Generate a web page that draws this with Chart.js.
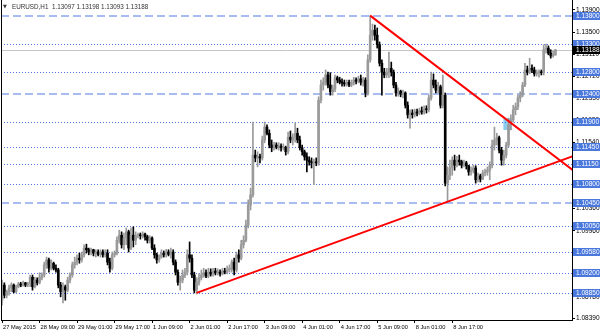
<!DOCTYPE html>
<html>
<head>
<meta charset="utf-8">
<script src="https://cdn.jsdelivr.net/npm/chart.js@4.4.1/dist/chart.umd.min.js"></script>
<style>
  html, body { margin: 0; padding: 0; background: #fff; }
  #wrap { width: 600px; height: 333px; }
</style>
</head>
<body>
<div id="wrap"><canvas id="chart" width="600" height="333"></canvas></div>
<script>
// EURUSD H1, one entry per hourly bar, starting 27 May 2015 17:00
const symbol = "EURUSD,H1";

const opens = [
  1.0872, 1.0899, 1.0881, 1.0887, 1.0894, 1.0899, 1.0887, 1.0896, 1.0901, 1.0899,
  1.0903, 1.0899, 1.0901, 1.0913, 1.0896, 1.0908, 1.0903, 1.0913, 1.0917, 1.0935,
  1.0944, 1.0929, 1.0938, 1.0929, 1.0926, 1.0899, 1.0887, 1.0896, 1.0890, 1.0908,
  1.0917, 1.0935, 1.0940, 1.0947, 1.0944, 1.0953, 1.0965, 1.0962, 1.0958, 1.0962,
  1.0956, 1.0958, 1.0954, 1.0958, 1.0953, 1.0956, 1.0940, 1.0929, 1.0953, 1.0956,
  1.0979, 1.0988, 1.0971, 1.0983, 1.0994, 1.0965, 1.0988, 1.0979, 1.0987, 1.0988,
  1.0987, 1.0990, 1.0985, 1.0979, 1.0983, 1.0965, 1.0953, 1.0944, 1.0949, 1.0956,
  1.0953, 1.0958, 1.0954, 1.0958, 1.0940, 1.0922, 1.0904, 1.0908, 1.0917, 1.0922,
  1.0953, 1.0947, 1.0917, 1.0890, 1.0904, 1.0912, 1.0917, 1.0921, 1.0915, 1.0922,
  1.0919, 1.0924, 1.0921, 1.0922, 1.0919, 1.0924, 1.0922, 1.0926, 1.0929, 1.0940,
  1.0926, 1.0953, 1.0947, 1.0971, 1.0979, 1.1006, 1.1042, 1.1060, 1.1131, 1.1126,
  1.1128, 1.1126, 1.1158, 1.1181, 1.1170, 1.1149, 1.1144, 1.1149, 1.1145, 1.1147,
  1.1144, 1.1145, 1.1137, 1.1163, 1.1158, 1.1163, 1.1170, 1.1158, 1.1144, 1.1137,
  1.1128, 1.1122, 1.1119, 1.1117, 1.1119, 1.1117, 1.1229, 1.1256, 1.1261, 1.1274,
  1.1256, 1.1244, 1.1249, 1.1269, 1.1265, 1.1261, 1.1260, 1.1258, 1.1261, 1.1256,
  1.1260, 1.1265, 1.1263, 1.1267, 1.1261, 1.1265, 1.1242, 1.1301, 1.1345, 1.1354,
  1.1345, 1.1328, 1.1295, 1.1279, 1.1274, 1.1279, 1.1286, 1.1279, 1.1256, 1.1242,
  1.1245, 1.1240, 1.1242, 1.1220, 1.1203, 1.1206, 1.1203, 1.1208, 1.1206, 1.1210,
  1.1208, 1.1213, 1.1212, 1.1233, 1.1265, 1.1256, 1.1247, 1.1253, 1.1220, 1.1238,
  1.1081, 1.1095, 1.1108, 1.1122, 1.1113, 1.1122, 1.1119, 1.1113, 1.1117, 1.1112,
  1.1101, 1.1104, 1.1108, 1.1087, 1.1094, 1.1088, 1.1099, 1.1101, 1.1104, 1.1113,
  1.1149, 1.1158, 1.1162, 1.1140, 1.1122, 1.1131, 1.1149, 1.1185, 1.1194, 1.1212,
  1.1217, 1.1233, 1.1238, 1.1256, 1.1283, 1.1279, 1.1286, 1.1283, 1.1276, 1.1278,
  1.1279, 1.1278, 1.1319, 1.1322, 1.1313, 1.1308, 1.13097
];
const highs = [
  1.0908, 1.0903, 1.0890, 1.0899, 1.0903, 1.0901, 1.0899, 1.0904, 1.0904, 1.0906,
  1.0904, 1.0904, 1.0917, 1.0917, 1.0913, 1.0912, 1.0921, 1.0921, 1.0940, 1.0949,
  1.0947, 1.0944, 1.0940, 1.0935, 1.0929, 1.0904, 1.0903, 1.0899, 1.0913, 1.0921,
  1.0940, 1.0949, 1.0953, 1.0956, 1.0958, 1.0971, 1.0972, 1.0965, 1.0965, 1.0963,
  1.0962, 1.0962, 1.0962, 1.0962, 1.0962, 1.0962, 1.0947, 1.0958, 1.0960, 1.0985,
  1.0997, 1.0994, 1.0992, 1.1001, 1.0997, 1.1001, 1.1003, 1.0994, 1.0992, 1.0992,
  1.0994, 1.0992, 1.0988, 1.0987, 1.0985, 1.0971, 1.0956, 1.0953, 1.0962, 1.0960,
  1.0963, 1.0962, 1.0965, 1.0962, 1.0944, 1.0926, 1.0915, 1.0926, 1.0929, 1.0962,
  1.0976, 1.0953, 1.0922, 1.0912, 1.0919, 1.0926, 1.0929, 1.0926, 1.0929, 1.0928,
  1.0929, 1.0929, 1.0928, 1.0926, 1.0929, 1.0929, 1.0933, 1.0935, 1.0944, 1.0947,
  1.0958, 1.0962, 1.0979, 1.0987, 1.1015, 1.1051, 1.1072, 1.1190, 1.1140, 1.1137,
  1.1133, 1.1165, 1.1190, 1.1185, 1.1176, 1.1158, 1.1154, 1.1153, 1.1153, 1.1151,
  1.1151, 1.1147, 1.1172, 1.1174, 1.1169, 1.1188, 1.1179, 1.1165, 1.1149, 1.1140,
  1.1135, 1.1128, 1.1126, 1.1124, 1.1126, 1.1235, 1.1265, 1.1269, 1.1283, 1.1279,
  1.1278, 1.1256, 1.1274, 1.1272, 1.1270, 1.1267, 1.1265, 1.1265, 1.1265, 1.1265,
  1.1270, 1.1269, 1.1272, 1.1274, 1.1270, 1.1269, 1.1310, 1.1380, 1.1365, 1.1363,
  1.1358, 1.1333, 1.1301, 1.1286, 1.1286, 1.1315, 1.1297, 1.1283, 1.1261, 1.1251,
  1.1247, 1.1247, 1.1244, 1.1226, 1.1212, 1.1212, 1.1213, 1.1213, 1.1215, 1.1217,
  1.1219, 1.1219, 1.1238, 1.1279, 1.1276, 1.1265, 1.1261, 1.1256, 1.1274, 1.1242,
  1.1110, 1.1122, 1.1128, 1.1131, 1.1129, 1.1131, 1.1122, 1.1122, 1.1120, 1.1113,
  1.1110, 1.1113, 1.1112, 1.1099, 1.1097, 1.1104, 1.1106, 1.1110, 1.1119, 1.1158,
  1.1181, 1.1170, 1.1165, 1.1145, 1.1140, 1.1154, 1.1197, 1.1203, 1.1220, 1.1224,
  1.1238, 1.1244, 1.1261, 1.1295, 1.1290, 1.1304, 1.1292, 1.1288, 1.1283, 1.1283,
  1.1283, 1.1328, 1.1329, 1.1326, 1.1319, 1.1317, 1.13198
];
const lows = [
  1.0863, 1.0876, 1.0876, 1.0881, 1.0887, 1.0885, 1.0885, 1.0894, 1.0896, 1.0897,
  1.0896, 1.0896, 1.0896, 1.0890, 1.0894, 1.0899, 1.0901, 1.0908, 1.0913, 1.0929,
  1.0922, 1.0926, 1.0926, 1.0922, 1.0894, 1.0878, 1.0867, 1.0872, 1.0887, 1.0903,
  1.0913, 1.0929, 1.0935, 1.0938, 1.0940, 1.0949, 1.0956, 1.0953, 1.0953, 1.0951,
  1.0949, 1.0951, 1.0949, 1.0949, 1.0949, 1.0935, 1.0922, 1.0926, 1.0949, 1.0953,
  1.0974, 1.0965, 1.0962, 1.0971, 1.0958, 1.0962, 1.0967, 1.0971, 1.0983, 1.0981,
  1.0983, 1.0979, 1.0974, 1.0974, 1.0962, 1.0947, 1.0938, 1.0940, 1.0947, 1.0949,
  1.0949, 1.0951, 1.0947, 1.0935, 1.0917, 1.0899, 1.0890, 1.0903, 1.0912, 1.0917,
  1.0940, 1.0912, 1.0885, 1.0883, 1.0899, 1.0908, 1.0913, 1.0912, 1.0912, 1.0915,
  1.0915, 1.0917, 1.0917, 1.0915, 1.0917, 1.0919, 1.0919, 1.0922, 1.0922, 1.0917,
  1.0922, 1.0940, 1.0944, 1.0965, 1.0976, 1.1001, 1.1033, 1.1056, 1.1119, 1.1110,
  1.1117, 1.1122, 1.1153, 1.1167, 1.1144, 1.1137, 1.1140, 1.1142, 1.1140, 1.1138,
  1.1140, 1.1131, 1.1133, 1.1153, 1.1149, 1.1154, 1.1153, 1.1140, 1.1131, 1.1122,
  1.1101, 1.1113, 1.1108, 1.1078, 1.1112, 1.1113, 1.1224, 1.1247, 1.1256, 1.1251,
  1.1238, 1.1238, 1.1244, 1.1260, 1.1258, 1.1254, 1.1254, 1.1254, 1.1253, 1.1253,
  1.1256, 1.1258, 1.1260, 1.1256, 1.1254, 1.1235, 1.1238, 1.1297, 1.1336, 1.1336,
  1.1322, 1.1290, 1.1238, 1.1269, 1.1269, 1.1269, 1.1272, 1.1251, 1.1236, 1.1236,
  1.1235, 1.1233, 1.1215, 1.1197, 1.1179, 1.1197, 1.1199, 1.1201, 1.1203, 1.1204,
  1.1204, 1.1206, 1.1208, 1.1229, 1.1251, 1.1242, 1.1242, 1.1215, 1.1215, 1.1076,
  1.1047, 1.1087, 1.1095, 1.1104, 1.1110, 1.1113, 1.1108, 1.1110, 1.1106, 1.1095,
  1.1095, 1.1099, 1.1081, 1.1083, 1.1083, 1.1087, 1.1094, 1.1095, 1.1087, 1.1108,
  1.1140, 1.1149, 1.1135, 1.1113, 1.1113, 1.1126, 1.1145, 1.1176, 1.1190, 1.1203,
  1.1212, 1.1226, 1.1235, 1.1253, 1.1274, 1.1276, 1.1278, 1.1272, 1.1272, 1.1270,
  1.1274, 1.1274, 1.1313, 1.1310, 1.1304, 1.1306, 1.13093
];
const closes = [
  1.0899, 1.0881, 1.0887, 1.0894, 1.0899, 1.0887, 1.0896, 1.0901, 1.0899, 1.0903,
  1.0899, 1.0901, 1.0913, 1.0896, 1.0908, 1.0903, 1.0913, 1.0917, 1.0935, 1.0944,
  1.0929, 1.0938, 1.0929, 1.0926, 1.0899, 1.0887, 1.0896, 1.0890, 1.0908, 1.0917,
  1.0935, 1.0940, 1.0947, 1.0944, 1.0953, 1.0965, 1.0962, 1.0958, 1.0962, 1.0956,
  1.0958, 1.0954, 1.0958, 1.0953, 1.0956, 1.0940, 1.0929, 1.0953, 1.0956, 1.0979,
  1.0988, 1.0971, 1.0983, 1.0994, 1.0965, 1.0988, 1.0979, 1.0987, 1.0988, 1.0987,
  1.0990, 1.0985, 1.0979, 1.0983, 1.0965, 1.0953, 1.0944, 1.0949, 1.0956, 1.0953,
  1.0958, 1.0954, 1.0958, 1.0940, 1.0922, 1.0904, 1.0908, 1.0917, 1.0922, 1.0953,
  1.0947, 1.0917, 1.0890, 1.0904, 1.0912, 1.0917, 1.0921, 1.0915, 1.0922, 1.0919,
  1.0924, 1.0921, 1.0922, 1.0919, 1.0924, 1.0922, 1.0926, 1.0929, 1.0940, 1.0926,
  1.0953, 1.0947, 1.0971, 1.0979, 1.1006, 1.1042, 1.1060, 1.1131, 1.1126, 1.1128,
  1.1126, 1.1158, 1.1181, 1.1170, 1.1149, 1.1144, 1.1149, 1.1145, 1.1147, 1.1144,
  1.1145, 1.1137, 1.1163, 1.1158, 1.1163, 1.1170, 1.1158, 1.1144, 1.1137, 1.1128,
  1.1122, 1.1119, 1.1117, 1.1119, 1.1117, 1.1229, 1.1256, 1.1261, 1.1274, 1.1256,
  1.1244, 1.1249, 1.1269, 1.1265, 1.1261, 1.1260, 1.1258, 1.1261, 1.1256, 1.1260,
  1.1265, 1.1263, 1.1267, 1.1261, 1.1265, 1.1242, 1.1301, 1.1345, 1.1354, 1.1345,
  1.1328, 1.1295, 1.1279, 1.1274, 1.1279, 1.1286, 1.1279, 1.1256, 1.1242, 1.1245,
  1.1240, 1.1242, 1.1220, 1.1203, 1.1206, 1.1203, 1.1208, 1.1206, 1.1210, 1.1208,
  1.1213, 1.1212, 1.1233, 1.1265, 1.1256, 1.1247, 1.1253, 1.1220, 1.1238, 1.1081,
  1.1095, 1.1108, 1.1122, 1.1113, 1.1122, 1.1119, 1.1113, 1.1117, 1.1112, 1.1101,
  1.1104, 1.1108, 1.1087, 1.1094, 1.1088, 1.1099, 1.1101, 1.1104, 1.1113, 1.1149,
  1.1158, 1.1162, 1.1140, 1.1122, 1.1131, 1.1149, 1.1185, 1.1194, 1.1212, 1.1217,
  1.1233, 1.1238, 1.1256, 1.1283, 1.1279, 1.1286, 1.1283, 1.1276, 1.1278, 1.1279,
  1.1278, 1.1319, 1.1322, 1.1313, 1.1308, 1.1311, 1.13188
];

// time axis: a label every 16 bars
const timeTickBars = [0, 16, 32, 48, 64, 80, 96, 112, 128, 144, 160, 176, 192];
const timeTickLabels = ["27 May 2015", "28 May 09:00", "29 May 01:00", "29 May 17:00", "1 Jun 09:00",
  "2 Jun 01:00", "2 Jun 17:00", "3 Jun 09:00", "4 Jun 01:00", "4 Jun 17:00", "5 Jun 09:00",
  "8 Jun 01:00", "8 Jun 17:00"];

// price axis
const priceTicks = [1.13900, 1.13500, 1.13110, 1.12720, 1.12330, 1.11930, 1.11540, 1.11150,
  1.10750, 1.10360, 1.09960, 1.09570, 1.09170, 1.08780, 1.08390];

// horizontal levels drawn on the chart
const dashedLevels = [1.13800, 1.12400, 1.10450];
const dottedLevels = [1.13300, 1.12800, 1.11900, 1.11450, 1.11150, 1.10800, 1.10050, 1.09580, 1.09200, 1.08850];

// trend lines: [bar, price] anchors
const trendDown = [[157, 1.1380], [250, 1.1083]];
const trendUp = [[83, 1.0885], [250, 1.1139]];

// small rectangle object at the breakout
const boxBars = [213.8, 217.4];
const boxPrices = [1.11967, 1.11758];

const bullColor = "#9a9a9a";
const bearColor = "#000000";

const candleColors = closes.map((c, i) => c >= opens[i] ? bullColor : bearColor);
const wickData = highs.map((h, i) => ({ x: i, y: [lows[i], h] }));
const bodyData = closes.map((c, i) => ({ x: i, y: [Math.min(opens[i], c), Math.max(opens[i], c)] }));

const labelFont = "Liberation Sans";

const overlay = {
  id: "overlay",
  beforeDatasetsDraw(chart) {
    const { ctx, chartArea: a, scales: { x, y } } = chart;
    ctx.save();
    ctx.beginPath();
    ctx.rect(a.left, a.top, a.right - a.left, a.bottom - a.top);
    ctx.clip();

    // rectangle object
    const rx0 = x.getPixelForValue(boxBars[0]), rx1 = x.getPixelForValue(boxBars[1]);
    const ry0 = y.getPixelForValue(boxPrices[0]), ry1 = y.getPixelForValue(boxPrices[1]);
    ctx.fillStyle = "#8ccdee";
    ctx.fillRect(rx0, ry0, rx1 - rx0, ry1 - ry0);

    // bid line
    const by = Math.round(y.getPixelForValue(closes[closes.length - 1])) + 0.5;
    ctx.strokeStyle = "#c6c6c6";
    ctx.lineWidth = 1;
    ctx.beginPath(); ctx.moveTo(a.left, by); ctx.lineTo(a.right, by); ctx.stroke();

    // dotted levels
    ctx.setLineDash([1, 2]);
    ctx.strokeStyle = "#4f74e3";
    dottedLevels.forEach(v => {
      const py = Math.round(y.getPixelForValue(v)) + 0.5;
      ctx.beginPath(); ctx.moveTo(a.left, py); ctx.lineTo(a.right, py); ctx.stroke();
    });

    // dashed levels
    ctx.setLineDash([8, 4]);
    ctx.lineWidth = 2;
    ctx.strokeStyle = "#a8bcf2";
    dashedLevels.forEach(v => {
      const py = Math.round(y.getPixelForValue(v));
      ctx.beginPath(); ctx.moveTo(a.left, py); ctx.lineTo(a.right, py); ctx.stroke();
    });
    ctx.restore();
  },
  afterDraw(chart) {
    const { ctx, chartArea: a, scales: { y } } = chart;
    ctx.save();

    // left frame
    ctx.strokeStyle = "#000";
    ctx.lineWidth = 1;
    ctx.beginPath(); ctx.moveTo(a.left + 0.5, a.top); ctx.lineTo(a.left + 0.5, a.bottom); ctx.stroke();

    // price boxes on the axis
    ctx.font = "6.5px " + labelFont;
    ctx.textBaseline = "middle";
    ctx.textAlign = "left";
    const box = (v, bg) => {
      const py = Math.round(y.getPixelForValue(v));
      ctx.fillStyle = bg;
      ctx.fillRect(a.right + 1, py - 4, 27, 8);
      ctx.fillStyle = "#fff";
      ctx.fillText(v.toFixed(5), a.right + 4, py + 0.5);
    };
    dashedLevels.concat(dottedLevels).forEach(v => box(v, "#4a78dc"));
    box(closes[closes.length - 1], "#000");

    // title
    const n = closes.length - 1;
    ctx.fillStyle = "#333";
    ctx.font = "5px DejaVu Sans";
    ctx.fillText("\u25BC", 3, 7);
    ctx.font = "6.3px " + labelFont;
    ctx.fillText(symbol + "  " + [opens[n], highs[n], lows[n], closes[n]].map(v => v.toFixed(5)).join(" "), 12, 7);
    ctx.restore();
  }
};

new Chart(document.getElementById("chart"), {
  type: "bar",
  data: {
    datasets: [
      { type: "line", data: trendDown.map(p => ({ x: p[0], y: p[1] })), borderColor: "#ff0000",
        borderWidth: 2, pointRadius: 0, order: 0 },
      { type: "line", data: trendUp.map(p => ({ x: p[0], y: p[1] })), borderColor: "#ff0000",
        borderWidth: 2, pointRadius: 0, order: 0 },
      { type: "bar", data: bodyData, backgroundColor: candleColors, barThickness: 2,
        grouped: false, minBarLength: 1, order: 1 },
      { type: "bar", data: wickData, backgroundColor: candleColors, barThickness: 1,
        grouped: false, minBarLength: 1, order: 2 }
    ]
  },
  options: {
    responsive: false,
    devicePixelRatio: 1,
    animation: false,
    events: [],
    layout: { padding: { left: 1, top: 0, right: 0, bottom: 0 } },
    plugins: { legend: { display: false }, tooltip: { enabled: false } },
    scales: {
      x: {
        type: "linear",
        offset: false,
        bounds: "data",
        min: -0.43,
        max: 243.07,
        afterBuildTicks: s => { s.ticks = timeTickBars.map(v => ({ value: v })); },
        afterFit: s => { s.height = 13; s.paddingLeft = 0; s.paddingRight = 0; },
        ticks: {
          autoSkip: false, maxRotation: 0, align: "start", labelOffset: 1, padding: 1,
          color: "#000", font: { family: labelFont, size: 5.7 },
          callback: (v, i) => timeTickLabels[i]
        },
        grid: { offset: false, drawOnChartArea: false, drawTicks: true, tickLength: 3, color: "#000" },
        border: { display: true, color: "#000" }
      },
      y: {
        position: "right",
        bounds: "data",
        min: 1.083665,
        max: 1.140785,
        afterBuildTicks: s => { s.ticks = priceTicks.map(v => ({ value: v })); },
        afterFit: s => { s.width = 28; s.paddingTop = 0; s.paddingBottom = 0; },
        ticks: {
          autoSkip: false, padding: 1, color: "#000",
          font: { family: labelFont, size: 6.5 },
          callback: v => v.toFixed(5)
        },
        grid: { drawOnChartArea: false, drawTicks: true, tickLength: 3, color: "#000" },
        border: { display: true, color: "#000" }
      }
    }
  },
  plugins: [overlay]
});
</script>
</body>
</html>
